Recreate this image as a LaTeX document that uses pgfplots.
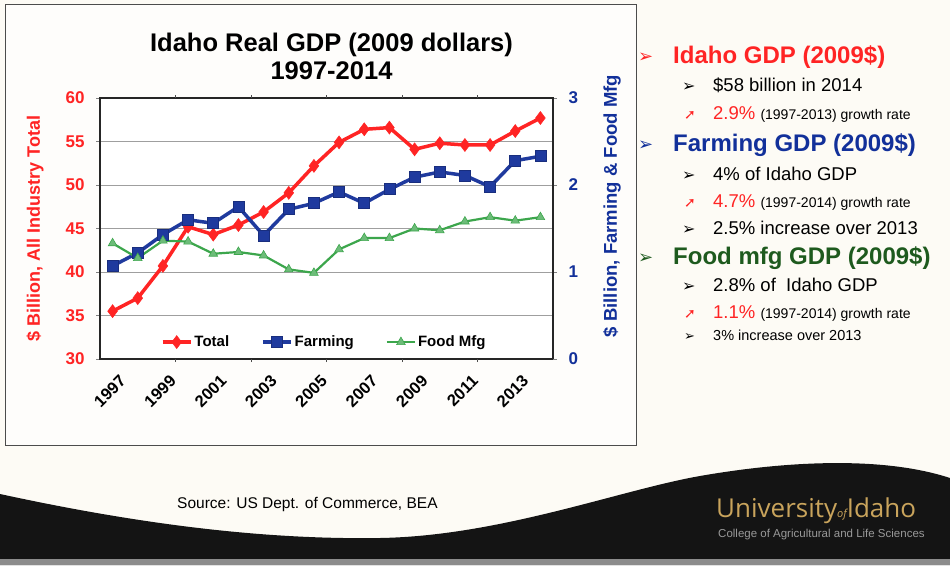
\documentclass[border=0pt]{standalone}
\usepackage{fontspec}
\setmainfont{Liberation Sans}
\newfontfamily\dejavu{DejaVu Sans}
\newfontfamily\logofont{Open Sans}
\usepackage{pgfplots}
\pgfplotsset{compat=1.18}

\definecolor{tred}{HTML}{FF2424}
\definecolor{tblue}{HTML}{1F3A9E}
\definecolor{tgreen}{HTML}{3CA64C}
\definecolor{dgreen}{HTML}{1E5A1E}
\definecolor{navy}{HTML}{12309A}
\definecolor{slide}{HTML}{FDFBF5}
\definecolor{gold}{HTML}{C9A45C}

\newcommand\fs[1]{\fontsize{#1}{#1}\selectfont}

\pgfplotsset{
  totalstyle/.style={tred, line width=3.5pt, mark=diamond*, mark size=6.5pt,
    mark options={solid, fill=tred, line width=0.5pt}},
  farmstyle/.style={tblue, line width=3.5pt, mark=square*, mark size=5.5pt,
    mark options={solid, fill=tblue, draw=tblue!80!black, line width=0.8pt}},
  foodstyle/.style={tgreen, line width=2.2pt, mark=triangle*, mark size=5pt,
    mark options={solid, fill=tgreen!75!white, draw=tgreen, line width=0.6pt}},
}

\begin{document}
\begin{tikzpicture}
\path[use as bounding box] (0pt,0pt) rectangle (950pt,-565pt);

\begin{scope}[x=1pt,y=-1pt]
  % slide background, chart frame and the dark wave
  \fill[slide] (0,0) rectangle (950,565);
  \fill[white!60!slide] (5,4) rectangle (636,445);
  \draw[black!70, line width=1pt] (5,4) rectangle (636,445);
  \fill[black!92] (0,494) .. controls (120,520) and (250,540) .. (380,538)
    .. controls (500,536) and (620,490) .. (700,476)
    .. controls (780,462) and (880,455) .. (950,478)
    -- (950,565) -- (0,565) -- cycle;
  \fill[black!45] (0,559) rectangle (950,565);

  \node[anchor=base west, font=\fs{15.5}, inner sep=0pt] at (177,508) {Source: US Dept. of Commerce, BEA};
  \node[anchor=base west, text=gold, font=\logofont\fs{26}, inner sep=0pt] at (716,517)
    {University{\fs{11}\itshape of}Idaho};
  \node[anchor=base west, text=black!40, font=\fs{11.5}, inner sep=0pt] at (718,537)
    {College of Agricultural and Life Sciences};

  % right hand notes
  \begin{scope}[every node/.style={anchor=base west, inner sep=0pt}]
    \node[text=tred, font=\dejavu\fs{18}] at (638,62) {➢};
    \node[text=tred, font=\fs{24}\bfseries] at (673,63.5) {Idaho GDP (2009\$)};
    \node[font=\dejavu\fs{16}] at (682,91.5) {➢};
    \node[font=\fs{18.5}] at (713,91.5) {\$58 billion in 2014};
    \node[text=tred, font=\dejavu\fs{14}] at (684,119) {➚};
    \node[font=\fs{18.5}] at (713,119) {\textcolor{tred}{2.9\%} {\fs{14}(1997-2013) growth rate}};

    \node[text=navy, font=\dejavu\fs{18}] at (638,150) {➢};
    \node[text=navy, font=\fs{24}\bfseries] at (673,151.5) {Farming GDP (2009\$)};
    \node[font=\dejavu\fs{16}] at (682,180) {➢};
    \node[font=\fs{18.5}] at (713,180) {4\% of Idaho GDP};
    \node[text=tred, font=\dejavu\fs{14}] at (684,207.5) {➚};
    \node[font=\fs{18.5}] at (713,207.5) {\textcolor{tred}{4.7\%} {\fs{14}(1997-2014) growth rate}};
    \node[font=\dejavu\fs{16}] at (682,234.5) {➢};
    \node[font=\fs{18.5}] at (713,234.5) {2.5\% increase over 2013};

    \node[text=dgreen, font=\dejavu\fs{18}] at (638,263) {➢};
    \node[text=dgreen, font=\fs{24}\bfseries] at (673,264.5) {Food mfg GDP (2009\$)};
    \node[font=\dejavu\fs{16}] at (682,291.5) {➢};
    \node[font=\fs{18.5}] at (713,291.5) {2.8\% of \ Idaho GDP};
    \node[text=tred, font=\dejavu\fs{14}] at (684,318.5) {➚};
    \node[font=\fs{18.5}] at (713,318.5) {\textcolor{tred}{1.1\%} {\fs{14}(1997-2014) growth rate}};
    \node[font=\dejavu\fs{13}] at (684,340) {➢};
    \node[font=\fs{14.5}] at (713,340) {3\% increase over 2013};
  \end{scope}
\end{scope}

% left axis: all industry total
\begin{axis}[
  at={(100pt,-359pt)}, anchor=south west,
  width=453pt, height=261pt, scale only axis,
  xmin=1996.5, xmax=2014.5, ymin=30, ymax=60,
  ytick={30,35,...,60},
  xtick={1997,1999,...,2013},
  xticklabels={1997,1999,2001,2003,2005,2007,2009,2011,2013},
  xtick style={draw=none},
  extra x ticks={1999.5,2002.5,2005.5,2008.5,2011.5},
  extra x tick labels={},
  extra x tick style={xtick style={draw=black!70, line width=1pt}, major tick length=3pt},
  ytick pos=left, tick align=outside, major tick length=4pt,
  ymajorgrids, grid style={gray!75, line width=0.9pt},
  axis line style={line width=2.6pt, black!85},
  axis background/.style={fill=white},
  /pgf/number format/assume math mode=true,
  yticklabel style={font=\fs{17}\bfseries, text=tred, xshift=-8pt},
  xticklabel style={font=\fs{16.5}\bfseries, rotate=45, anchor=east, yshift=-18pt, xshift=0pt},
  ylabel={\$ Billion, All Industry Total},
  ylabel style={font=\fs{18}\bfseries, text=tred, at={(axis description cs:-0.1435,0.5)}, anchor=center},
  title={Idaho Real GDP (2009 dollars)\\1997-2014},
  title style={font=\fontsize{25.5}{28.5}\selectfont\bfseries, align=center, inner sep=0pt,
    at={(axis description cs:0.5,1)}, anchor=south, yshift=12pt, xshift=5pt},
]
\addplot[totalstyle] coordinates {
  (1997,35.5) (1998,37.0) (1999,40.7) (2000,45.2) (2001,44.3) (2002,45.4)
  (2003,46.9) (2004,49.1) (2005,52.2) (2006,54.9) (2007,56.4) (2008,56.6)
  (2009,54.1) (2010,54.8) (2011,54.6) (2012,54.6) (2013,56.2) (2014,57.7)
};
\end{axis}

% right axis: farming and food manufacturing
\begin{axis}[
  at={(100pt,-359pt)}, anchor=south west,
  width=453pt, height=261pt, scale only axis,
  xmin=1996.5, xmax=2014.5, ymin=0, ymax=3,
  axis x line=none, axis y line*=right,
  ytick={0,1,2,3}, tick align=outside, major tick length=4pt,
  axis line style={line width=2.6pt, black!85},
  /pgf/number format/assume math mode=true,
  yticklabel style={font=\fs{17}\bfseries, text=navy, xshift=8pt},
  ylabel={\$ Billion, Farming \& Food Mfg},
  ylabel style={font=\fs{18.5}\bfseries, text=navy, at={(axis description cs:1.130,0.586)}, anchor=center},
  legend style={at={(0.495,0.025)}, anchor=south, legend columns=3, draw=none, fill=none,
    font=\fs{15}\bfseries, /tikz/every even column/.append style={column sep=30pt}},
  legend image code/.code={\draw[mark repeat=2, mark phase=2, #1]
    plot coordinates {(0pt,0pt) (14pt,0pt) (28pt,0pt)};},
]
\addlegendimage{totalstyle}
\addlegendentry{Total}
\addplot[farmstyle] coordinates {
  (1997,1.07) (1998,1.22) (1999,1.43) (2000,1.60) (2001,1.56) (2002,1.75)
  (2003,1.42) (2004,1.72) (2005,1.79) (2006,1.92) (2007,1.79) (2008,1.95)
  (2009,2.09) (2010,2.15) (2011,2.11) (2012,1.98) (2013,2.28) (2014,2.33)
};
\addlegendentry{Farming}
\addplot[foodstyle] coordinates {
  (1997,1.33) (1998,1.16) (1999,1.36) (2000,1.35) (2001,1.21) (2002,1.23)
  (2003,1.19) (2004,1.03) (2005,0.99) (2006,1.26) (2007,1.39) (2008,1.39)
  (2009,1.50) (2010,1.48) (2011,1.58) (2012,1.63) (2013,1.59) (2014,1.63)
};
\addlegendentry{Food Mfg}
\end{axis}
\end{tikzpicture}
\end{document}
